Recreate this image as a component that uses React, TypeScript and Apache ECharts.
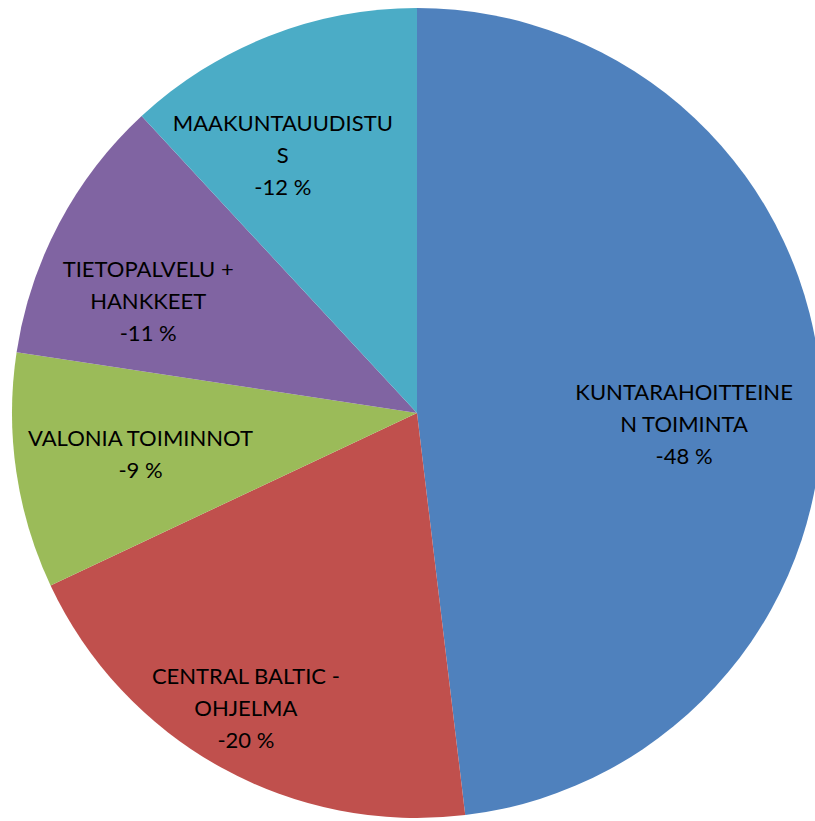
import React, { useEffect, useRef } from "react";
import * as echarts from "echarts";

const categories = [
  "KUNTARAHOITTEINEN TOIMINTA",
  "CENTRAL BALTIC -OHJELMA",
  "VALONIA TOIMINNOT",
  "TIETOPALVELU + HANKKEET",
  "MAAKUNTAUUDISTUS",
];
// shares (%); labels show them as negative percentages
const values = [-48.1, -19.9, -9.4, -10.7, -11.9];
const labelLines = [
  ["KUNTARAHOITTEINE", "N TOIMINTA"],
  ["CENTRAL BALTIC -", "OHJELMA"],
  ["VALONIA TOIMINNOT"],
  ["TIETOPALVELU +", "HANKKEET"],
  ["MAAKUNTAUUDISTU", "S"],
];
const colors = ["#4F81BD", "#C0504D", "#9BBB59", "#8064A2", "#4BACC6"];

// label placement (style): polar angle (deg clockwise from top) and radius fraction
const labelAngle = [92.2, 210.2, 261.7, 292.8, 332.6];
const labelRadius = [0.66, 0.84, 0.69, 0.72, 0.72];

const CX = 417;
const CY = 413;
const R = 405;

export default function App() {
  const ref = useRef<HTMLDivElement>(null);
  useEffect(() => {
    if (!ref.current) return;
    const chart = echarts.init(ref.current, undefined, { renderer: "svg" });
    chart.setOption({
      animation: false,
      backgroundColor: "#ffffff",
      series: [
        {
          type: "pie",
          center: [CX, CY],
          radius: [0, R],
          startAngle: 90,
          clockwise: true,
          avoidLabelOverlap: false,
          label: {
            show: true,
            position: "inside",
            color: "#000000",
            fontFamily: "Lato",
            fontSize: 22,
            lineHeight: 32,
            align: "center",
            verticalAlign: "middle",
            formatter: (p: any) =>
              labelLines[p.dataIndex].join("\n") +
              "\n-" +
              Math.round(Math.abs(values[p.dataIndex])) +
              " %",
          },
          labelLine: { show: false },
          labelLayout: (p: any) => {
            const i = p.dataIndex;
            const a = (labelAngle[i] * Math.PI) / 180;
            return {
              x: CX + R * labelRadius[i] * Math.sin(a),
              y: CY - R * labelRadius[i] * Math.cos(a),
            };
          },
          itemStyle: { borderWidth: 0 },
          emphasis: { disabled: true },
          data: categories.map((name, i) => ({
            name,
            value: Math.abs(values[i]),
            itemStyle: { color: colors[i] },
          })),
        },
      ],
    });
    return () => chart.dispose();
  }, []);
  return (
    <div
      ref={ref}
      style={{ position: "fixed", left: 0, top: 0, width: 815, height: 821 }}
    />
  );
}
